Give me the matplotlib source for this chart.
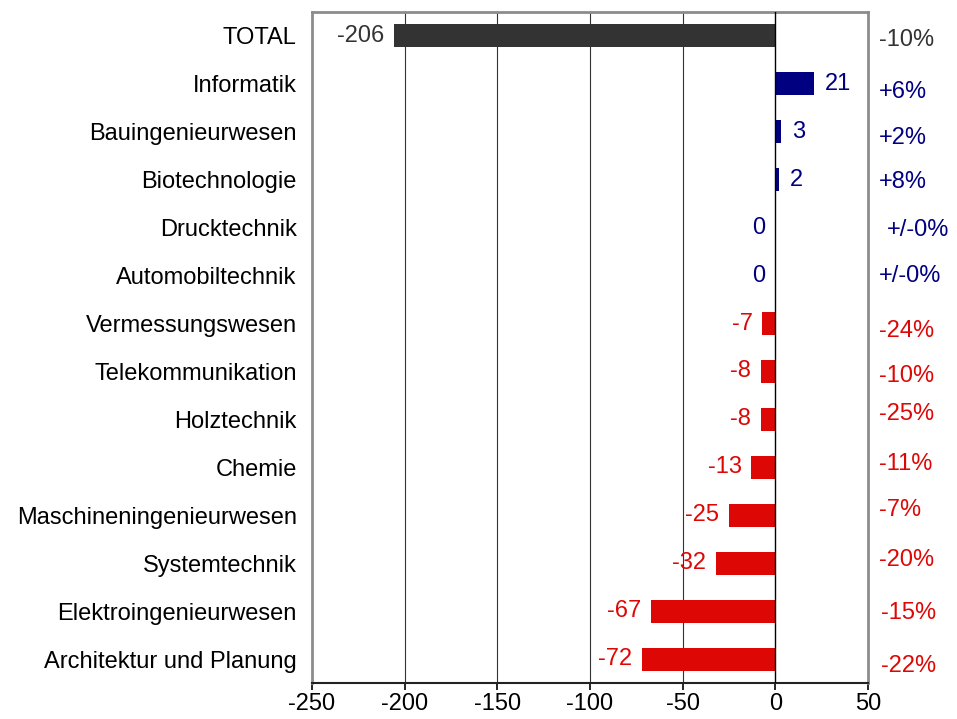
import matplotlib.pyplot as plt
from matplotlib.transforms import blended_transform_factory


CATEGORIES = [
    "TOTAL",
    "Informatik",
    "Bauingenieurwesen",
    "Biotechnologie",
    "Drucktechnik",
    "Automobiltechnik",
    "Vermessungswesen",
    "Telekommunikation",
    "Holztechnik",
    "Chemie",
    "Maschineningenieurwesen",
    "Systemtechnik",
    "Elektroingenieurwesen",
    "Architektur und Planung",
]
CHANGES = [-206, 21, 3, 2, 0, 0, -7, -8, -8, -13, -25, -32, -67, -72]
PERCENTS = [
    "-10%", "+6%", "+2%", "+8%", "+/-0%", "+/-0%", "-24%",
    "-10%", "-25%", "-11%", "-7%", "-20%", "-15%", "-22%",
]
X_TICKS = [-250, -200, -150, -100, -50, 0, 50]

# hand nudges for the percent labels (pixels, as in the old Excel chart)
PCT_DX = [0, 0, 0, 0, 8, 0, 0, 0, 0, 0, 0, 0, 2, 2]
PCT_DY = [4, 8, 6, 2, 2, 0, 7, 5, -5, -3, -5, -3, 2, 7]

TOTAL_COLOR = "#333333"
UP_COLOR = "#000080"
DOWN_COLOR = "#DD0806"


def colour_for(i, value):
    if i == 0:
        return TOTAL_COLOR
    return UP_COLOR if value >= 0 else DOWN_COLOR


def main() -> None:
    plt.rcParams["font.family"] = ["Liberation Sans", "DejaVu Sans"]
    fs = 17

    fig = plt.figure(figsize=(9.57, 7.19), dpi=100)
    ax = fig.add_axes([312 / 957, 1 - 683 / 719, 556 / 957, 671 / 719])

    ypos = list(range(len(CATEGORIES)))
    colours = [colour_for(i, v) for i, v in enumerate(CHANGES)]
    ax.barh(ypos, CHANGES, height=0.48, color=colours, zorder=3)

    ax.set_xlim(-250, 50)
    ax.set_ylim(len(CATEGORIES) - 0.5, -0.5)
    ax.set_xticks(X_TICKS)
    ax.set_xticklabels([str(t) for t in X_TICKS], fontsize=fs)
    ax.set_yticks(ypos)
    ax.set_yticklabels(CATEGORIES, fontsize=fs)
    ax.tick_params(axis="y", length=0, pad=11)
    ax.tick_params(axis="x", direction="out", length=5, width=1.2, pad=2)

    for t in X_TICKS[1:-2]:
        ax.axvline(t, color="#333333", lw=0.8, zorder=1)
    ax.axvline(0, color="black", lw=1.0, zorder=4)

    for side in ("left", "top", "right"):
        ax.spines[side].set_color("#8c8c8c")
        ax.spines[side].set_linewidth(2)
    ax.spines["bottom"].set_color("#222222")
    ax.spines["bottom"].set_linewidth(1.5)

    for i, v in enumerate(CHANGES):
        c = colours[i]
        if v > 0:
            ax.annotate(str(v), xy=(v, i), xytext=(8, 0), textcoords="offset points",
                        ha="left", va="center", color=c, fontsize=fs)
        else:
            ax.annotate(str(v), xy=(v, i), xytext=(-7, 0), textcoords="offset points",
                        ha="right", va="center", color=c, fontsize=fs)

    trans = blended_transform_factory(ax.transAxes, ax.transData)
    for i, p in enumerate(PERCENTS):
        ax.annotate(p, xy=(1, i), xycoords=trans,
                    xytext=(8 + PCT_DX[i] * 0.72, -PCT_DY[i] * 0.72),
                    textcoords="offset points", ha="left", va="center",
                    color=colours[i], fontsize=fs, annotation_clip=False)

    fig.savefig("out.png", dpi=100)


if __name__ == "__main__":
    main()
